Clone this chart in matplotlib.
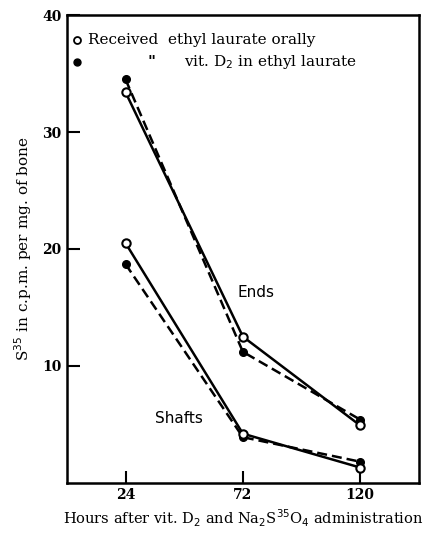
import matplotlib
matplotlib.use("Agg")
import matplotlib.pyplot as plt

hours = [24, 72, 120]
ends_control = [33.4, 12.5, 4.9]
ends_vitd = [34.5, 11.2, 5.4]
shafts_control = [20.5, 4.2, 1.3]
shafts_vitd = [18.7, 3.9, 1.8]

xticks = [24, 72, 120]
yticks = [10, 20, 30, 40]

plt.rcParams['font.family'] = ['DejaVu Serif']

fig = plt.figure(figsize=(4.4, 5.4), dpi=100)
ax = fig.add_axes([0.152, 0.106, 0.800, 0.866])

lw = 1.8
for ys in (ends_control, shafts_control):
    ax.plot(hours, ys, color='black', lw=lw, ls='-', marker='o', ms=6,
            mfc='white', mec='black', mew=1.5, zorder=3)
for ys in (ends_vitd, shafts_vitd):
    ax.plot(hours, ys, color='black', lw=lw, ls=(0, (4, 2)), marker='o', ms=5.5,
            mfc='black', mec='black', zorder=2)

ax.set_xlim(0, 144)
ax.set_ylim(0, 40)
ax.set_xticks(xticks)
ax.set_xticklabels([str(t) for t in xticks], fontsize=10, fontweight='bold')
ax.set_yticks(yticks)
ax.set_yticklabels([str(t) for t in yticks], fontsize=10, fontweight='bold')
ax.tick_params(axis='both', direction='in', length=9, width=1.5, pad=4)
for s in ax.spines.values():
    s.set_linewidth(1.8)

ax.set_ylabel(r'S$^{35}$ in c.p.m. per mg. of bone', fontsize=11, labelpad=6)
ax.set_xlabel(r'Hours after vit. D$_2$ and Na$_2$S$^{35}$O$_4$ administration',
              fontsize=10.5, labelpad=4)

# legend drawn as text entries
ax.plot([4], [37.9], marker='o', ms=5, mfc='white', mec='black', mew=1.3,
        ls='none', clip_on=False)
ax.plot([4], [36.0], marker='o', ms=5, mfc='black', mec='black',
        ls='none', clip_on=False)
ax.text(8.5, 37.9, 'Received  ethyl laurate orally', fontsize=11, va='center')
ax.text(33, 36.0, '"', fontsize=11, va='center', fontweight='bold')
ax.text(48, 36.0, r'vit. D$_2$ in ethyl laurate', fontsize=11, va='center')

ax.text(70, 15.9, 'Ends', fontsize=11, fontfamily='DejaVu Sans')
ax.text(36, 5.1, 'Shafts', fontsize=11, fontfamily='DejaVu Sans')

fig.savefig('out.png', dpi=100)
